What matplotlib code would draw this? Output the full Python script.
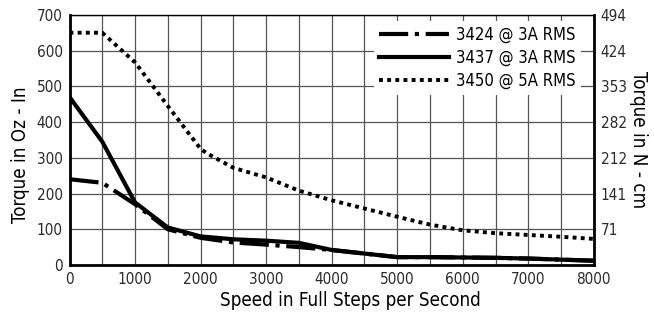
import numpy as np
import matplotlib
matplotlib.use("Agg")
import matplotlib.pyplot as plt
from matplotlib.ticker import MultipleLocator

# speed in full steps per second
speed = [0, 500, 1000, 1500, 2000, 2500, 3000, 3500, 4000, 4500, 5000,
         5500, 6000, 6500, 7000, 7500, 8000]

t3424 = [240, 230, 170, 100, 76, 63, 57, 50, 42, 32, 22, 22, 21, 20, 18, 15, 12]
t3437 = [470, 345, 175, 105, 80, 72, 68, 62, 42, 32, 22, 22, 21, 20, 18, 15, 12]

speed3450 = [0, 500, 1000, 1500, 2000, 2100, 2500, 3000, 3500, 4000, 4500,
             5000, 5500, 6000, 6500, 7000, 7500, 8000]
t3450 = [650, 650, 567, 445, 325, 312, 272, 245, 208, 181, 158,
         135, 113, 97, 89, 84, 79, 73]

labels = ["3424 @ 3A RMS", "3437 @ 3A RMS", "3450 @ 5A RMS"]

left_ticks = [0, 100, 200, 300, 400, 500, 600, 700]
right_ticks = [100, 200, 300, 400, 500, 600, 700]
right_labels = ["71", "141", "212", "282", "353", "424", "494"]
x_ticks = [0, 1000, 2000, 3000, 4000, 5000, 6000, 7000, 8000]

plt.rcParams.update({
    "font.family": ["DejaVu Sans"],
    "font.stretch": "condensed",
    "font.size": 11,
})

fig = plt.figure(figsize=(6.54, 3.18), dpi=100)
ax = fig.add_axes([0.1063, 0.1667, 0.8017, 0.7866])

ax.plot(speed, t3424, color="black", lw=3,
        linestyle=(0, (7, 1.6, 1, 1.6)), dash_capstyle="butt", label=labels[0], zorder=3)
ax.plot(speed, t3437, color="black", lw=3, solid_joinstyle="round",
        label=labels[1], zorder=4)
ax.plot(speed3450, t3450, color="black", lw=2.8,
        linestyle=(0, (1, 1.1)), dash_capstyle="butt", label=labels[2], zorder=3)

ax.set_xlim(0, 8000)
ax.set_ylim(0, 700)
ax.set_xticks(x_ticks)
ax.xaxis.set_minor_locator(MultipleLocator(500))
ax.set_yticks(left_ticks)
ax.grid(True, which="both", color="#555555", lw=0.9, zorder=0)
ax.set_axisbelow(True)
ax.tick_params(which="both", length=0, labelsize=11, colors="#2a2a2a", pad=5)

for s in ax.spines.values():
    s.set_linewidth(2)
ax.spines["top"].set_linewidth(1)

ax.set_xlabel("Speed in Full Steps per Second", fontsize=13.5)
ax.xaxis.set_label_coords(0.535, -0.105)
ax.set_ylabel("Torque in Oz - In", fontsize=13.5)
ax.yaxis.set_label_coords(-0.075, 0.44)

ax2 = ax.twinx()
ax2.set_ylim(0, 700)
ax2.set_yticks(right_ticks)
ax2.set_yticklabels(right_labels)
ax2.tick_params(length=0, labelsize=11, colors="#2a2a2a", pad=5)
ax2.set_ylabel("Torque in N - cm", fontsize=13.5, rotation=-90, labelpad=15)
for s in ax2.spines.values():
    s.set_visible(False)

leg = ax.legend(loc="upper right", bbox_to_anchor=(0.975, 0.975), frameon=True,
                fancybox=False, edgecolor="none", facecolor="white", framealpha=1,
                fontsize=12, handlelength=4.2, handletextpad=0.4,
                labelspacing=0.3, borderpad=0.3, borderaxespad=0)
leg.set_zorder(5)

fig.savefig("out.png", dpi=100)
